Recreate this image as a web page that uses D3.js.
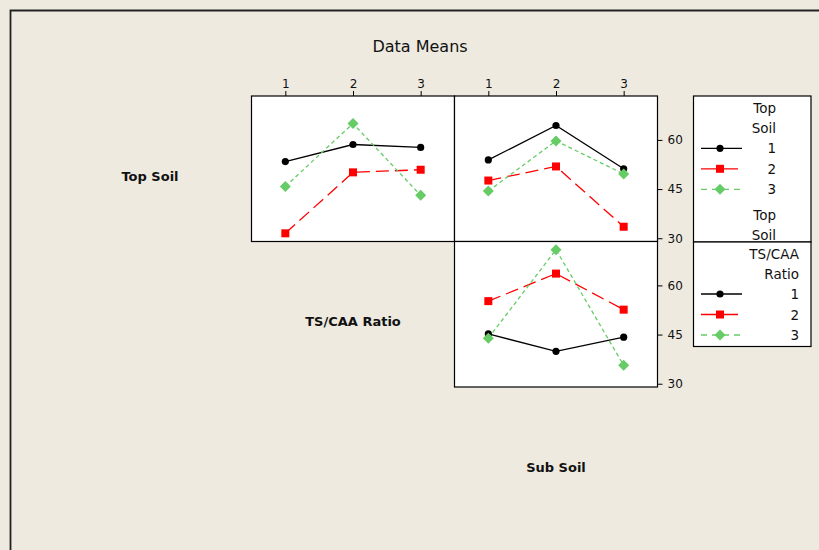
<!DOCTYPE html>
<html>
<head>
<meta charset="utf-8">
<script src="https://cdn.jsdelivr.net/npm/d3@7"></script>
<style>
  html, body { margin: 0; padding: 0; background: #EEEAE0; }
  svg { display: block; }
  text { font-family: "DejaVu Sans", sans-serif; fill: #111; }
</style>
</head>
<body>
<svg id="chart" width="819" height="550"></svg>
<script>
// Factor levels shared by every panel
const levels = [1, 2, 3];
const yTicks = [30, 45, 60];
const seriesNames = ["1", "2", "3"];

// Top Soil means, x = TS/CAA Ratio level
const topSoil1ByRatio = [53.4, 58.6, 57.7];
const topSoil2ByRatio = [31.5, 50.1, 50.9];
const topSoil3ByRatio = [45.8, 65.0, 43.1];

// Top Soil means, x = Sub Soil level
const topSoil1BySub = [53.9, 64.4, 51.2];
const topSoil2BySub = [47.6, 51.9, 33.5];
const topSoil3BySub = [44.4, 59.7, 49.6];

// TS/CAA Ratio means, x = Sub Soil level
const ratio1BySub = [45.2, 39.9, 44.2];
const ratio2BySub = [55.2, 63.6, 52.6];
const ratio3BySub = [43.9, 70.9, 35.6];

const svg = d3.select("#chart");

// Layout of the interaction matrix
const colX = [48.5, 251.5, 454.5, 657.5];
const rowY = [96, 241.5, 387, 532.5];

const styles = [
  { color: "#000000", dash: null, shape: "circle" },
  { color: "#FF0000", dash: "13,6", shape: "square" },
  { color: "#66CC66", dash: "4,3", shape: "diamond" }
];

function drawMarker(g, shape, color, x, y) {
  if (shape === "circle") {
    g.append("circle").attr("cx", x).attr("cy", y).attr("r", 3.6).attr("fill", color);
  } else if (shape === "square") {
    g.append("rect").attr("x", x - 4).attr("y", y - 4).attr("width", 8).attr("height", 8).attr("fill", color);
  } else {
    const s = 5.5;
    g.append("path")
      .attr("d", `M${x},${y - s}L${x + s},${y}L${x},${y + s}L${x - s},${y}Z`)
      .attr("fill", color);
  }
}

// Outer frame
svg.append("path").attr("d", "M10.5,550V10.5H819").attr("fill", "none")
  .attr("stroke", "#222").attr("stroke-width", 1.8);

// Title
svg.append("text").attr("x", 420).attr("y", 52).attr("text-anchor", "middle")
  .attr("font-size", 16).text("Data Means");

// Diagonal factor labels
const factorLabels = ["Top Soil", "TS/CAA Ratio", "Sub Soil"];
factorLabels.forEach((lab, i) => {
  svg.append("text")
    .attr("x", (colX[i] + colX[i + 1]) / 2)
    .attr("y", (rowY[i] + rowY[i + 1]) / 2 + 12)
    .attr("text-anchor", "middle")
    .attr("font-size", 13).attr("font-weight", "bold")
    .text(lab);
});

function panel(col, row, seriesList, showTopAxis, showRightAxis) {
  const x0 = colX[col], x1 = colX[col + 1];
  const y0 = rowY[row], y1 = rowY[row + 1];
  const x = d3.scaleLinear().domain([0.5, 3.5]).range([x0, x1]);
  const y = d3.scaleLinear().domain([29.0, 73.4]).range([y1, y0]);

  svg.append("rect").attr("x", x0).attr("y", y0)
    .attr("width", x1 - x0).attr("height", y1 - y0)
    .attr("fill", "#fff");

  const g = svg.append("g");
  seriesList.forEach((vals, si) => {
    const st = styles[si];
    const line = d3.line().x((d, i) => x(levels[i])).y(d => y(d));
    g.append("path").datum(vals).attr("d", line)
      .attr("fill", "none").attr("stroke", st.color).attr("stroke-width", 1.3)
      .attr("stroke-dasharray", st.dash);
    vals.forEach((v, i) => drawMarker(g, st.shape, st.color, x(levels[i]), y(v)));
  });

  svg.append("rect").attr("x", x0).attr("y", y0)
    .attr("width", x1 - x0).attr("height", y1 - y0)
    .attr("fill", "none").attr("stroke", "#000").attr("stroke-width", 1.2);

  if (showTopAxis) {
    const ax = svg.append("g").attr("transform", `translate(0,${y0})`)
      .call(d3.axisTop(x).tickValues(levels).tickSize(5).tickPadding(3).tickFormat(d3.format("d")));
    ax.select(".domain").remove();
    ax.selectAll("text").attr("font-size", 12).attr("font-family", "DejaVu Sans").attr("fill", "#111");
  }
  if (showRightAxis) {
    const ay = svg.append("g").attr("transform", `translate(${x1},0)`)
      .call(d3.axisRight(y).tickValues(yTicks).tickSize(5).tickPadding(5));
    ay.select(".domain").remove();
    ay.selectAll("text").attr("font-size", 12).attr("font-family", "DejaVu Sans").attr("fill", "#111");
  }
}

panel(1, 0, [topSoil1ByRatio, topSoil2ByRatio, topSoil3ByRatio], true, false);
panel(2, 0, [topSoil1BySub, topSoil2BySub, topSoil3BySub], true, true);
panel(2, 1, [ratio1BySub, ratio2BySub, ratio3BySub], false, true);

// Legends
function legendBox(y0, y1, titleLines, textRight, itemY, extraLines) {
  const lx0 = 693.5, lx1 = 811;
  svg.append("rect").attr("x", lx0).attr("y", y0).attr("width", lx1 - lx0).attr("height", y1 - y0)
    .attr("fill", "#fff").attr("stroke", "#000").attr("stroke-width", 1.2);
  titleLines.forEach((t, i) => {
    svg.append("text").attr("x", textRight).attr("y", y0 + 17 + i * 20)
      .attr("text-anchor", "end").attr("font-size", 13.5).text(t);
  });
  seriesNames.forEach((name, i) => {
    const st = styles[i];
    const yy = itemY + i * 20.5;
    svg.append("line").attr("x1", 701).attr("x2", i === 1 ? 738 : 742)
      .attr("y1", yy).attr("y2", yy)
      .attr("stroke", st.color).attr("stroke-width", 1.3)
      .attr("stroke-dasharray", i === 2 ? "6,5" : null);
    drawMarker(svg, st.shape, st.color, 720, yy);
    svg.append("text").attr("x", textRight).attr("y", yy + 5)
      .attr("text-anchor", "end").attr("font-size", 13.5).text(name);
  });
  (extraLines || []).forEach((t, i) => {
    svg.append("text").attr("x", textRight).attr("y", itemY + 72 + i * 20)
      .attr("text-anchor", "end").attr("font-size", 13.5).text(t);
  });
}

legendBox(96, 242, ["Top", "Soil"], 776, 148.3, ["Top", "Soil"]);
legendBox(242, 346.5, ["TS/CAA", "Ratio"], 799, 294);
</script>
</body>
</html>
